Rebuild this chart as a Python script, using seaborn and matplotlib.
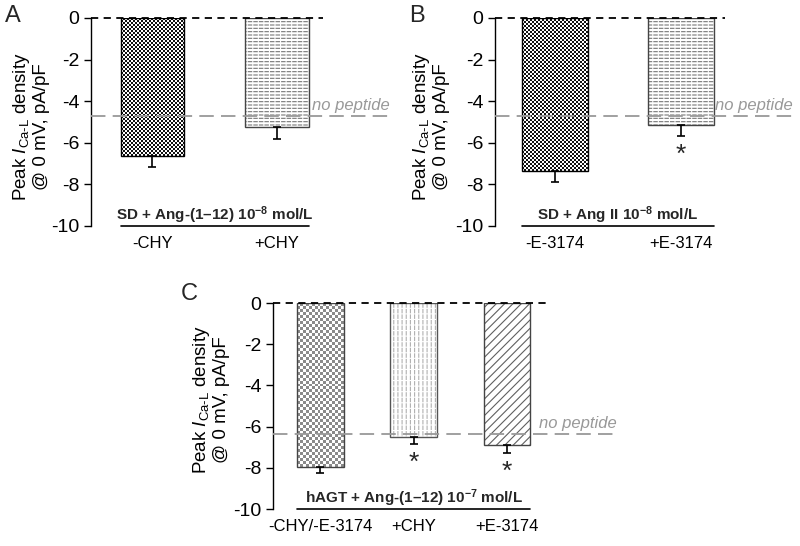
import numpy as np
import matplotlib
matplotlib.use("Agg")
import matplotlib.pyplot as plt
from matplotlib.patches import Rectangle
from matplotlib.colors import ListedColormap
import seaborn as sns

sns.set_theme(style="white")
plt.rcParams['font.family'] = ['Liberation Sans', 'DejaVu Sans']
plt.rcParams['mathtext.fontset'] = 'custom'
plt.rcParams['mathtext.rm'] = 'Liberation Sans'
plt.rcParams['mathtext.it'] = 'Liberation Sans:italic'
plt.rcParams['mathtext.bf'] = 'Liberation Sans:bold'
plt.rcParams['axes.unicode_minus'] = False
plt.rcParams['hatch.linewidth'] = 0.8

# --- data ---
a_labels = ['-CHY', '+CHY']
a_means = [-6.63, -5.25]
a_sem = [0.52, 0.55]
a_ref = -4.7
a_stars = [False, False]
a_group = r'SD + Ang-(1–12) $\mathbf{10^{-8}}$ mol/L'

b_labels = ['-E-3174', '+E-3174']
b_means = [-7.36, -5.14]
b_sem = [0.51, 0.52]
b_ref = -4.7
b_stars = [False, True]
b_group = r'SD + Ang II $\mathbf{10^{-8}}$ mol/L'

c_labels = ['-CHY/-E-3174', '+CHY', '+E-3174']
c_means = [-7.96, -6.50, -6.90]
c_sem = [0.29, 0.34, 0.38]
c_ref = -6.36
c_stars = [False, True, True]
c_group = r'hAGT + Ang-(1–12) $\mathbf{10^{-7}}$ mol/L'

ylab = 'Peak $\\mathit{I}_{\\mathrm{Ca\u2010L}}$ density\n@ 0 mV, pA/pF'

W, H = 800, 546
fig = plt.figure(figsize=(W / 100, H / 100), dpi=100)


def add_axes_px(left, right, top, bottom):
    return fig.add_axes([left / W, 1 - bottom / H, (right - left) / W, (bottom - top) / H])


def checker(ax, p, cell_px, dark, edge):
    x, y, w, h = p.get_x(), p.get_y(), p.get_width(), p.get_height()
    (x0, y0), (x1, y1) = ax.transData.transform([(x, y), (x + w, y + h)])
    nx = max(1, int(round(abs(x1 - x0) / cell_px)))
    ny = max(1, int(round(abs(y1 - y0) / cell_px)))
    board = np.indices((ny, nx)).sum(axis=0) % 2
    ax.imshow(board, extent=[x, x + w, y + h, y], aspect='auto', interpolation='nearest',
              cmap=ListedColormap(['white', dark]), zorder=0.9)
    p.set_facecolor('none')
    p.set_edgecolor(edge)


def hatched(ax, p, hatch, color, edge, breaker=None):
    p.set_facecolor('white')
    p.set_edgecolor(color)
    p.set_hatch(hatch)
    p.set_linewidth(0)
    geom = dict(xy=(p.get_x(), p.get_y()), width=p.get_width(), height=p.get_height())
    if breaker:
        ax.add_patch(Rectangle(**geom, fill=False, hatch=breaker, edgecolor='white', lw=0, zorder=1.1))
    ax.add_patch(Rectangle(**geom, fill=False, edgecolor=edge, lw=1, zorder=1.2))


def panel(ax, labels, means, sem, ref, stars, group, styles, width, xlim, zero_end, label_xy):
    sns.barplot(x=labels, y=means, ax=ax, width=width, color='white',
                edgecolor='#333333', linewidth=1, errorbar=None)
    bars = list(ax.patches)
    ax.set_xlim(*xlim)
    ax.set_ylim(-10, 0)
    for p, st in zip(bars, styles):
        if st[0] == 'checker':
            checker(ax, p, st[1], st[2], st[3])
        else:
            hatched(ax, p, st[1], st[2], st[3], st[4] if len(st) > 4 else None)
    xs = np.arange(len(labels))
    # error bars point away from zero only
    ax.errorbar(xs, means, yerr=[sem, np.zeros(len(sem))], fmt='none', ecolor='black',
                elinewidth=1.2, capsize=3, capthick=1.2, zorder=2)
    for i, s in enumerate(stars):
        if s:
            ax.annotate('*', xy=(xs[i], means[i] - sem[i]), xytext=(0, -5), textcoords='offset points',
                        ha='center', va='top', fontsize=19)
    ax.plot([xlim[0], zero_end], [0, 0], color='black', lw=1.3, dashes=(4, 3), clip_on=False, zorder=3)
    ax.axhline(ref, color='#999999', lw=1.3, dashes=(8, 4), zorder=3)
    ax.annotate('no peptide', xy=(1, ref), xycoords=('axes fraction', 'data'), xytext=(0, 4),
                textcoords='offset points', ha='right', va='baseline', fontsize=12,
                style='italic', color='#999999')
    left_edge = xs[0] - width / 2
    right_edge = xs[-1] + width / 2
    ax.plot([left_edge, right_edge], [-10, -10], color='black', lw=1.2, clip_on=False)
    ax.annotate(group, xy=((left_edge + right_edge) / 2, -10), xytext=(0, 8), textcoords='offset points',
                ha='center', va='center', fontsize=11, fontweight='bold')
    ax.set_xlim(*xlim)
    ax.set_ylim(-10, 0)
    ax.set_yticks(range(-10, 1, 2))
    for side in ['top', 'right', 'bottom']:
        ax.spines[side].set_visible(False)
    ax.spines['left'].set_color('black')
    ax.spines['left'].set_linewidth(1)
    ax.tick_params(axis='y', direction='out', length=5, width=1, color='black', labelsize=14, left=True)
    ax.tick_params(axis='x', length=0, pad=7, labelsize=12)
    for t in ax.get_xticklabels():
        t.set_color('black')
    for t in ax.get_yticklabels():
        t.set_color('black')
    ax.set_xlabel('')
    ax.set_ylabel(ylab, fontsize=13.5, linespacing=1.1, color='black')
    ax.yaxis.set_label_coords(*label_xy)
    ax.set_facecolor('none')


ax_a = add_axes_px(91, 390, 18, 226)
panel(ax_a, a_labels, a_means, a_sem, a_ref, a_stars, a_group,
      [('checker', 2, '#111111', 'black'), ('hatch', '-----', '#777777', '#444444', '|||')],
      0.51, (-0.494, 1.908), 1.37, (-0.137, 0.478))

ax_b = add_axes_px(495, 793, 18, 226)
panel(ax_b, b_labels, b_means, b_sem, b_ref, b_stars, b_group,
      [('checker', 2, '#111111', 'black'), ('hatch', '-----', '#777777', '#444444', '|||')],
      0.52, (-0.476, 1.889), 1.35, (-0.151, 0.48))

ax_c = add_axes_px(273, 617, 303, 509)
panel(ax_c, c_labels, c_means, c_sem, c_ref, c_stars, c_group,
      [('checker', 3, '#8a8a8a', '#444444'), ('hatch', '||||', '#b0b0b0', '#555555', '---'),
       ('hatch', '////', '#606060', '#444444')],
      0.5, (-0.509, 3.18), 2.44, (-0.125, 0.53))

fig.text(5 / W, 1 - 22 / H, 'A', fontsize=17, va='baseline')
fig.text(409 / W, 1 - 22 / H, 'B', fontsize=17, va='baseline')
fig.text(181 / W, 1 - 300 / H, 'C', fontsize=17, va='baseline')

fig.savefig('out.png', dpi=100)
